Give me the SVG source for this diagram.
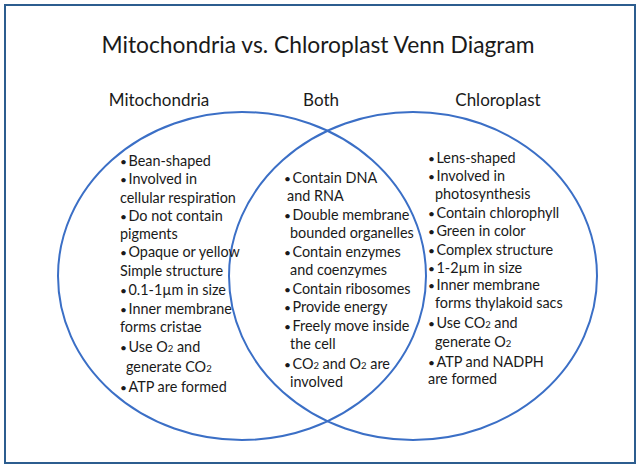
<svg xmlns="http://www.w3.org/2000/svg" width="640" height="468" viewBox="0 0 640 468">
<style>
  text { font-family: Lato, "Open Sans", "Liberation Sans", sans-serif; fill: #1a1a1a; }
  .t { font-size: 14.4px; }
  .h { font-size: 17px; text-anchor: middle; }
  .title { font-size: 22.8px; text-anchor: middle; }
  .s { font-size: 9.5px; }
  .b { font-size: 12px; }
  .ring { fill: none; stroke: #3b6fc6; stroke-width: 2; }
</style>
<rect x="0" y="0" width="640" height="468" fill="#ffffff"/>
<rect x="5" y="5" width="630" height="458" fill="none" stroke="#2c5d8f" stroke-width="2"/>
<g id="title"><text class="title" x="318" y="53">Mitochondria vs. Chloroplast Venn Diagram</text></g>
<g id="connectors">
  <ellipse class="ring" cx="242" cy="276" rx="184" ry="164"/>
  <ellipse class="ring" cx="413" cy="276" rx="184" ry="164"/>
</g>
<g id="mitochondria">
  <text class="h" x="159" y="106">Mitochondria</text>
  <text class="t" x="120" y="166"><tspan class="b">•</tspan><tspan dx="1.5">Bean-shaped</tspan></text>
  <text class="t" x="120" y="184"><tspan class="b">•</tspan><tspan dx="1.5">Involved in</tspan></text>
  <text class="t" x="120" y="203">cellular respiration</text>
  <text class="t" x="120" y="221"><tspan class="b">•</tspan><tspan dx="1.5">Do not contain</tspan></text>
  <text class="t" x="120" y="239">pigments</text>
  <text class="t" x="120" y="257"><tspan class="b">•</tspan><tspan dx="1.5">Opaque or yellow</tspan></text>
  <text class="t" x="120" y="276">Simple structure</text>
  <text class="t" x="120" y="295"><tspan class="b">•</tspan><tspan dx="1.5">0.1-1µm in size</tspan></text>
  <text class="t" x="120" y="314"><tspan class="b">•</tspan><tspan dx="1.5">Inner membrane</tspan></text>
  <text class="t" x="120" y="332">forms cristae</text>
  <text class="t" x="120" y="352"><tspan class="b">•</tspan><tspan dx="1.5">Use O</tspan><tspan class="s">2</tspan> and</text>
  <text class="t" x="126" y="372">generate CO<tspan class="s">2</tspan></text>
  <text class="t" x="120" y="392"><tspan class="b">•</tspan><tspan dx="1.5">ATP are formed</tspan></text>
</g>
<g id="both">
  <text class="h" x="321" y="106">Both</text>
  <text class="t" x="284" y="183"><tspan class="b">•</tspan><tspan dx="1.5">Contain DNA</tspan></text>
  <text class="t" x="287" y="201">and RNA</text>
  <text class="t" x="284" y="220"><tspan class="b">•</tspan><tspan dx="1.5">Double membrane</tspan></text>
  <text class="t" x="290" y="238">bounded organelles</text>
  <text class="t" x="284" y="257"><tspan class="b">•</tspan><tspan dx="1.5">Contain enzymes</tspan></text>
  <text class="t" x="290" y="275">and coenzymes</text>
  <text class="t" x="284" y="294"><tspan class="b">•</tspan><tspan dx="1.5">Contain ribosomes</tspan></text>
  <text class="t" x="284" y="312"><tspan class="b">•</tspan><tspan dx="1.5">Provide energy</tspan></text>
  <text class="t" x="284" y="331"><tspan class="b">•</tspan><tspan dx="1.5">Freely move inside</tspan></text>
  <text class="t" x="290" y="349">the cell</text>
  <text class="t" x="284" y="369"><tspan class="b">•</tspan><tspan dx="1.5">CO</tspan><tspan class="s">2</tspan> and O<tspan class="s">2</tspan> are</text>
  <text class="t" x="290" y="387">involved</text>
</g>
<g id="chloroplast">
  <text class="h" x="498" y="106">Chloroplast</text>
  <text class="t" x="428" y="163"><tspan class="b">•</tspan><tspan dx="1.5">Lens-shaped</tspan></text>
  <text class="t" x="428" y="181"><tspan class="b">•</tspan><tspan dx="1.5">Involved in</tspan></text>
  <text class="t" x="435" y="199">photosynthesis</text>
  <text class="t" x="428" y="218"><tspan class="b">•</tspan><tspan dx="1.5">Contain chlorophyll</tspan></text>
  <text class="t" x="428" y="236"><tspan class="b">•</tspan><tspan dx="1.5">Green in color</tspan></text>
  <text class="t" x="428" y="255"><tspan class="b">•</tspan><tspan dx="1.5">Complex structure</tspan></text>
  <text class="t" x="428" y="273"><tspan class="b">•</tspan><tspan dx="1.5">1-2µm in size</tspan></text>
  <text class="t" x="428" y="290"><tspan class="b">•</tspan><tspan dx="1.5">Inner membrane</tspan></text>
  <text class="t" x="435" y="308">forms thylakoid sacs</text>
  <text class="t" x="428" y="328"><tspan class="b">•</tspan><tspan dx="1.5">Use CO</tspan><tspan class="s">2</tspan> and</text>
  <text class="t" x="435" y="347">generate O<tspan class="s">2</tspan></text>
  <text class="t" x="428" y="367"><tspan class="b">•</tspan><tspan dx="1.5">ATP and NADPH</tspan></text>
  <text class="t" x="428" y="384">are formed</text>
</g>
</svg>
